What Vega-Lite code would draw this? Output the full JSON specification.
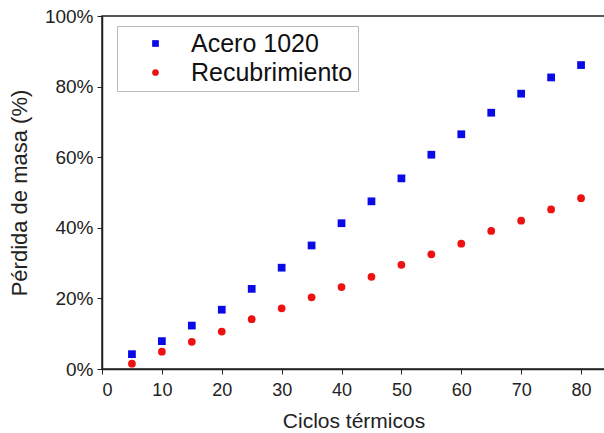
{
  "$schema": "https://vega.github.io/schema/vega-lite/v6.json",
  "autosize": {"type": "none"},
  "padding": {"left": 102, "top": 16, "right": 0, "bottom": 64},
  "width": 503,
  "height": 353,
  "background": "white",
  "config": {
    "font": "Liberation Sans",
    "view": {"stroke": "#222", "strokeWidth": 1.5},
    "axis": {"grid": false, "domainColor": "#222", "tickColor": "#222", "labelColor": "#222", "titleColor": "#222", "labelFont": "Liberation Sans", "titleFont": "Liberation Sans", "titleFontWeight": "normal"}
  },
  "data": {
    "values": [
      {"ciclos": 5, "perdida": 4.2, "serie": "Acero 1020"},
      {"ciclos": 10, "perdida": 7.9, "serie": "Acero 1020"},
      {"ciclos": 15, "perdida": 12.3, "serie": "Acero 1020"},
      {"ciclos": 20, "perdida": 16.8, "serie": "Acero 1020"},
      {"ciclos": 25, "perdida": 22.7, "serie": "Acero 1020"},
      {"ciclos": 30, "perdida": 28.7, "serie": "Acero 1020"},
      {"ciclos": 35, "perdida": 35.0, "serie": "Acero 1020"},
      {"ciclos": 40, "perdida": 41.3, "serie": "Acero 1020"},
      {"ciclos": 45, "perdida": 47.5, "serie": "Acero 1020"},
      {"ciclos": 50, "perdida": 54.0, "serie": "Acero 1020"},
      {"ciclos": 55, "perdida": 60.7, "serie": "Acero 1020"},
      {"ciclos": 60, "perdida": 66.5, "serie": "Acero 1020"},
      {"ciclos": 65, "perdida": 72.6, "serie": "Acero 1020"},
      {"ciclos": 70, "perdida": 78.0, "serie": "Acero 1020"},
      {"ciclos": 75, "perdida": 82.6, "serie": "Acero 1020"},
      {"ciclos": 80, "perdida": 86.1, "serie": "Acero 1020"},
      {"ciclos": 5, "perdida": 1.5, "serie": "Recubrimiento"},
      {"ciclos": 10, "perdida": 4.9, "serie": "Recubrimiento"},
      {"ciclos": 15, "perdida": 7.7, "serie": "Recubrimiento"},
      {"ciclos": 20, "perdida": 10.6, "serie": "Recubrimiento"},
      {"ciclos": 25, "perdida": 14.1, "serie": "Recubrimiento"},
      {"ciclos": 30, "perdida": 17.2, "serie": "Recubrimiento"},
      {"ciclos": 35, "perdida": 20.3, "serie": "Recubrimiento"},
      {"ciclos": 40, "perdida": 23.2, "serie": "Recubrimiento"},
      {"ciclos": 45, "perdida": 26.1, "serie": "Recubrimiento"},
      {"ciclos": 50, "perdida": 29.5, "serie": "Recubrimiento"},
      {"ciclos": 55, "perdida": 32.5, "serie": "Recubrimiento"},
      {"ciclos": 60, "perdida": 35.5, "serie": "Recubrimiento"},
      {"ciclos": 65, "perdida": 39.1, "serie": "Recubrimiento"},
      {"ciclos": 70, "perdida": 42.0, "serie": "Recubrimiento"},
      {"ciclos": 75, "perdida": 45.2, "serie": "Recubrimiento"},
      {"ciclos": 80, "perdida": 48.4, "serie": "Recubrimiento"}
    ]
  },
  "mark": {"type": "point", "filled": true, "opacity": 1, "size": 60},
  "encoding": {
    "x": {
      "field": "ciclos", "type": "quantitative",
      "scale": {"domain": [0, 84], "nice": false, "zero": true},
      "axis": {"values": [0, 10, 20, 30, 40, 50, 60, 70, 80], "title": "Ciclos térmicos", "labelFontSize": 18, "titleFontSize": 21, "tickSize": 5, "labelPadding": 7, "titlePadding": 11, "domainWidth": 1.5}
    },
    "y": {
      "field": "perdida", "type": "quantitative",
      "scale": {"domain": [0, 100], "nice": false},
      "axis": {"values": [0, 20, 40, 60, 80, 100], "labelExpr": "datum.value + '%'", "title": "Pérdida de masa (%)", "labelFontSize": 19, "titleFontSize": 22, "tickSize": 5, "labelPadding": 4, "titlePadding": 13, "domainWidth": 1.5}
    },
    "color": {
      "field": "serie", "type": "nominal",
      "scale": {"domain": ["Acero 1020", "Recubrimiento"], "range": ["#0a0ae6", "#ee1111"]},
      "legend": {
        "title": null, "orient": "none", "legendX": 15, "legendY": 10,
        "labelFontSize": 25, "labelFont": "Liberation Sans", "labelColor": "#111", "labelLimit": 400,
        "symbolSize": 45, "symbolOffset": 21, "labelOffset": 23, "rowPadding": 3,
        "padding": 5, "strokeColor": "#bbb", "fillColor": "white",
        "symbolStrokeWidth": 0
      }
    },
    "shape": {
      "field": "serie", "type": "nominal",
      "scale": {"domain": ["Acero 1020", "Recubrimiento"], "range": ["square", "circle"]},
      "legend": null
    }
  }
}
